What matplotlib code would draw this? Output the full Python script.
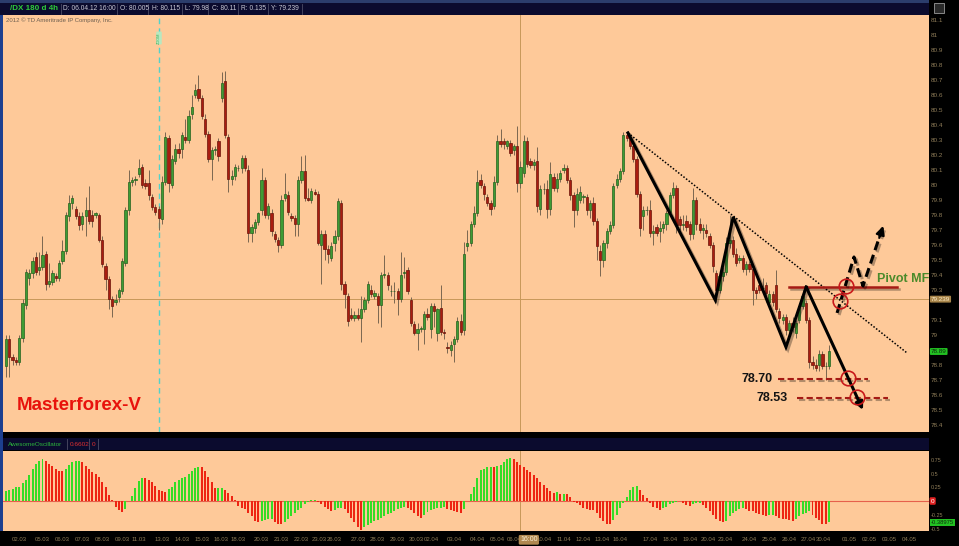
import matplotlib
matplotlib.use('Agg')
import matplotlib.pyplot as plt
import matplotlib.patheffects as pe
from matplotlib.patches import Rectangle
import numpy as np

plt.rcParams['font.family'] = ['Liberation Sans', 'DejaVu Sans']

# ---- price data, 4h bars of /DX ----
opens = [
    78.79, 78.97, 78.85, 78.83, 78.82, 78.98, 79.20, 79.38, 79.41, 79.52,
    79.43, 79.45, 79.54, 79.34, 79.35, 79.39, 79.38, 79.49, 79.56, 79.79,
    79.88, 79.84, 79.79, 79.74, 79.79, 79.83, 79.80, 79.80, 79.80, 79.63,
    79.46, 79.37, 79.24, 79.22, 79.25, 79.29, 79.48, 79.83, 80.02, 80.03,
    80.07, 80.12, 80.01, 80.01, 79.92, 79.85, 79.84, 79.77, 80.02, 80.31,
    80.00, 80.16, 80.24, 80.24, 80.32, 80.30, 80.47, 80.60, 80.64, 80.58,
    80.44, 80.34, 80.17, 80.23, 80.29, 80.58, 80.69, 80.32, 80.04, 80.06,
    80.11, 80.11, 80.18, 80.10, 79.68, 79.71, 79.75, 79.83, 80.03, 79.80,
    79.81, 79.67, 79.63, 79.60, 79.91, 79.93, 79.79, 79.78, 79.74, 80.03,
    80.09, 79.91, 79.90, 79.95, 79.94, 79.60, 79.67, 79.57, 79.51, 79.61,
    79.66, 79.88, 79.34, 79.26, 79.13, 79.11, 79.13, 79.11, 79.17, 79.23,
    79.30, 79.26, 79.26, 79.20, 79.40, 79.40, 79.29, 79.29, 79.29, 79.24,
    79.41, 79.43, 79.23, 79.07, 79.01, 79.04, 79.04, 79.14, 79.04, 79.19,
    79.01, 79.18, 79.02, 78.92, 78.90, 78.94, 78.97, 79.09, 79.03, 79.59,
    79.61, 79.74, 79.81, 80.03, 79.99, 79.92, 79.88, 79.86, 80.02, 80.29,
    80.29, 80.26, 80.28, 80.23, 80.26, 80.01, 80.08, 80.29, 80.16, 80.13,
    80.16, 79.84, 79.97, 79.97, 79.84, 80.05, 79.98, 80.04, 80.10, 80.11,
    80.03, 79.93, 79.83, 79.90, 79.92, 79.92, 79.83, 79.88, 79.76, 79.56,
    79.50, 79.61, 79.69, 79.73, 80.00, 80.04, 80.09, 80.33, 80.31, 80.26,
    80.17, 79.94, 79.79, 79.83, 79.83, 79.68, 79.72, 79.69, 79.71, 79.74,
    79.82, 79.93, 79.98, 79.77, 79.73, 79.76, 79.74, 79.67, 79.90, 79.74,
    79.70, 79.70, 79.66, 79.60, 79.41, 79.30, 79.39, 79.42, 79.61, 79.63,
    79.54, 79.50, 79.51, 79.44, 79.47, 79.44, 79.30, 79.33, 79.31, 79.33,
    79.22, 79.27, 79.33, 79.16, 79.10, 79.12, 79.03, 79.08, 79.01, 79.10,
    79.19, 79.21, 79.10, 78.82, 78.80, 78.80, 78.87, 78.79, 78.79]
highs = [
    79.00, 79.00, 78.87, 78.85, 79.00, 79.24, 79.44, 79.44, 79.52, 79.55,
    79.55, 79.66, 79.56, 79.48, 79.43, 79.41, 79.50, 79.63, 79.82, 79.93,
    79.93, 79.86, 79.82, 79.82, 79.92, 79.99, 79.83, 79.82, 79.81, 79.66,
    79.48, 79.39, 79.26, 79.27, 79.31, 79.51, 79.85, 80.10, 80.05, 80.06,
    80.17, 80.14, 80.04, 80.10, 79.94, 79.87, 79.86, 80.06, 80.35, 80.33,
    80.20, 80.27, 80.28, 80.35, 80.44, 80.50, 80.60, 80.67, 80.73, 80.60,
    80.47, 80.36, 80.25, 80.26, 80.31, 80.75, 80.76, 80.34, 80.10, 80.14,
    80.13, 80.20, 80.20, 80.13, 79.74, 79.77, 79.82, 80.11, 80.05, 79.88,
    79.84, 79.69, 79.65, 79.93, 80.08, 79.96, 79.81, 79.80, 80.06, 80.19,
    80.20, 79.98, 79.98, 79.97, 79.96, 79.70, 79.70, 79.60, 79.62, 79.70,
    79.91, 79.90, 79.36, 79.28, 79.18, 79.16, 79.18, 79.26, 79.25, 79.36,
    79.33, 79.30, 79.28, 79.42, 79.53, 79.42, 79.33, 79.35, 79.31, 79.55,
    79.52, 79.45, 79.25, 79.09, 79.08, 79.06, 79.16, 79.18, 79.21, 79.21,
    79.18, 79.33, 79.04, 78.95, 78.96, 78.99, 79.12, 79.14, 79.62, 79.70,
    79.76, 79.86, 80.10, 80.07, 80.01, 79.94, 79.90, 80.06, 80.33, 80.37,
    80.31, 80.30, 80.30, 80.27, 80.39, 80.16, 80.33, 80.32, 80.18, 80.17,
    80.25, 80.00, 80.01, 80.03, 80.15, 80.08, 80.08, 80.10, 80.14, 80.13,
    80.05, 79.95, 79.98, 79.99, 79.94, 79.94, 79.90, 79.92, 79.78, 79.60,
    79.63, 79.71, 79.76, 80.01, 80.07, 80.11, 80.35, 80.36, 80.33, 80.28,
    80.19, 79.96, 79.86, 79.86, 79.90, 79.73, 79.74, 79.76, 79.76, 79.83,
    79.95, 80.02, 80.00, 79.79, 79.80, 79.80, 79.76, 79.98, 79.92, 79.78,
    79.74, 79.74, 79.68, 79.62, 79.43, 79.42, 79.45, 79.65, 79.80, 79.66,
    79.58, 79.53, 79.53, 79.49, 79.49, 79.47, 79.32, 79.35, 79.38, 79.35,
    79.30, 79.29, 79.43, 79.18, 79.14, 79.14, 79.10, 79.12, 79.10, 79.21,
    79.30, 79.23, 79.12, 78.86, 78.84, 78.90, 78.89, 78.82, 78.93]
lows = [
    78.72, 78.72, 78.80, 78.80, 78.80, 78.95, 79.17, 79.33, 79.38, 79.40,
    79.40, 79.43, 79.30, 79.32, 79.33, 79.36, 79.36, 79.47, 79.54, 79.76,
    79.84, 79.77, 79.70, 79.70, 79.66, 79.74, 79.72, 79.78, 79.62, 79.45,
    79.30, 79.17, 79.12, 79.20, 79.22, 79.27, 79.46, 79.80, 79.99, 80.00,
    80.05, 79.98, 79.97, 79.90, 79.83, 79.80, 79.70, 79.74, 80.00, 79.95,
    79.98, 80.14, 80.18, 80.18, 80.28, 80.28, 80.44, 80.58, 80.56, 80.44,
    80.32, 80.15, 80.03, 80.20, 80.16, 80.55, 80.31, 79.95, 80.00, 80.03,
    80.09, 80.08, 80.09, 79.62, 79.62, 79.68, 79.73, 79.80, 79.78, 79.77,
    79.66, 79.62, 79.55, 79.58, 79.89, 79.80, 79.76, 79.66, 79.66, 80.01,
    79.89, 79.89, 79.88, 79.93, 79.60, 79.34, 79.50, 79.48, 79.49, 79.56,
    79.63, 79.30, 79.18, 79.06, 79.10, 79.09, 79.10, 78.95, 79.15, 79.21,
    79.25, 79.24, 79.08, 79.05, 79.38, 79.30, 79.26, 79.21, 79.13, 79.22,
    79.38, 79.27, 79.06, 79.00, 78.90, 79.02, 78.94, 79.10, 78.98, 79.05,
    78.96, 79.00, 78.97, 78.88, 78.86, 78.82, 78.95, 79.00, 79.00, 79.56,
    79.59, 79.72, 79.79, 79.98, 79.90, 79.86, 79.80, 79.84, 80.00, 80.25,
    80.24, 80.24, 80.19, 80.20, 79.95, 79.98, 80.05, 80.12, 80.11, 80.10,
    79.82, 79.80, 79.94, 79.78, 79.80, 79.96, 79.95, 80.02, 80.08, 80.01,
    79.90, 79.72, 79.80, 79.88, 79.88, 79.80, 79.78, 79.73, 79.50, 79.39,
    79.45, 79.58, 79.67, 79.71, 79.98, 80.02, 80.07, 80.29, 80.24, 80.15,
    79.92, 79.66, 79.70, 79.80, 79.65, 79.60, 79.66, 79.62, 79.68, 79.70,
    79.80, 79.91, 79.68, 79.70, 79.70, 79.69, 79.63, 79.64, 79.70, 79.68,
    79.64, 79.65, 79.58, 79.42, 79.22, 79.28, 79.36, 79.40, 79.58, 79.52,
    79.46, 79.48, 79.42, 79.40, 79.42, 79.20, 79.24, 79.28, 79.28, 79.22,
    79.19, 79.19, 79.15, 79.08, 79.07, 79.00, 78.98, 79.02, 78.98, 79.08,
    79.17, 79.08, 78.78, 78.77, 78.76, 78.76, 78.77, 78.70, 78.77]
closes = [
    78.97, 78.85, 78.83, 78.82, 78.98, 79.21, 79.42, 79.41, 79.49, 79.42,
    79.45, 79.53, 79.34, 79.36, 79.41, 79.38, 79.48, 79.56, 79.80, 79.88,
    79.91, 79.79, 79.73, 79.79, 79.83, 79.76, 79.76, 79.81, 79.63, 79.47,
    79.37, 79.24, 79.19, 79.23, 79.30, 79.49, 79.83, 80.02, 80.03, 80.04,
    80.11, 80.00, 79.99, 79.93, 79.85, 79.82, 79.78, 80.02, 80.32, 80.01,
    80.17, 80.24, 80.21, 80.33, 80.30, 80.46, 80.52, 80.63, 80.58, 80.46,
    80.34, 80.17, 80.23, 80.24, 80.19, 80.68, 80.33, 80.04, 80.06, 80.12,
    80.11, 80.18, 80.11, 79.68, 79.72, 79.75, 79.81, 80.03, 79.80, 79.86,
    79.69, 79.64, 79.60, 79.90, 79.94, 79.82, 79.78, 79.74, 80.03, 80.09,
    79.91, 79.90, 79.96, 79.94, 79.61, 79.67, 79.57, 79.54, 79.59, 79.66,
    79.89, 79.34, 79.27, 79.09, 79.11, 79.13, 79.11, 79.17, 79.23, 79.34,
    79.27, 79.28, 79.20, 79.40, 79.40, 79.33, 79.29, 79.29, 79.24, 79.40,
    79.42, 79.29, 79.08, 79.01, 79.04, 79.04, 79.14, 79.12, 79.19, 79.16,
    79.17, 79.02, 79.01, 78.91, 78.93, 78.97, 79.09, 79.02, 79.54, 79.61,
    79.74, 79.81, 80.02, 80.00, 79.94, 79.88, 79.84, 80.02, 80.29, 80.27,
    80.27, 80.29, 80.21, 80.26, 80.01, 80.12, 80.29, 80.14, 80.13, 80.15,
    79.86, 79.97, 79.97, 79.84, 80.07, 79.98, 80.04, 80.08, 80.11, 80.03,
    79.93, 79.83, 79.94, 79.95, 79.92, 79.83, 79.88, 79.76, 79.59, 79.50,
    79.61, 79.69, 79.73, 79.99, 80.04, 80.09, 80.33, 80.31, 80.26, 80.17,
    79.94, 79.71, 79.83, 79.83, 79.68, 79.69, 79.68, 79.71, 79.74, 79.81,
    79.93, 79.98, 79.73, 79.73, 79.74, 79.72, 79.67, 79.90, 79.74, 79.70,
    79.71, 79.68, 79.60, 79.46, 79.30, 79.39, 79.42, 79.61, 79.63, 79.54,
    79.48, 79.51, 79.44, 79.47, 79.44, 79.30, 79.28, 79.30, 79.31, 79.28,
    79.27, 79.22, 79.17, 79.11, 79.12, 79.03, 79.08, 79.05, 79.08, 79.19,
    79.26, 79.10, 78.82, 78.80, 78.78, 78.87, 78.79, 78.79, 78.89]

# Awesome Oscillator values, one per bar
ao_values = [
    0.18, 0.20, 0.22, 0.25, 0.26, 0.32, 0.39, 0.47, 0.58, 0.68,
    0.73, 0.76, 0.73, 0.68, 0.64, 0.59, 0.55, 0.54, 0.58, 0.66,
    0.70, 0.72, 0.73, 0.70, 0.64, 0.58, 0.53, 0.50, 0.44, 0.35,
    0.25, 0.11, 0.01, -0.10, -0.16, -0.20, -0.15, 0.00, 0.10, 0.23,
    0.37, 0.42, 0.41, 0.38, 0.34, 0.27, 0.20, 0.18, 0.17, 0.21,
    0.26, 0.34, 0.38, 0.41, 0.44, 0.50, 0.55, 0.60, 0.62, 0.61,
    0.54, 0.44, 0.35, 0.23, 0.235, 0.24, 0.20, 0.15, 0.10, 0.01,
    -0.09, -0.12, -0.15, -0.21, -0.28, -0.36, -0.39, -0.36, -0.34, -0.335,
    -0.33, -0.38, -0.41, -0.42, -0.38, -0.33, -0.27, -0.21, -0.16, -0.12,
    -0.05, -0.01, 0.01, 0.02, -0.02, -0.06, -0.11, -0.15, -0.18, -0.16,
    -0.13, -0.12, -0.15, -0.22, -0.30, -0.38, -0.48, -0.52, -0.47, -0.44,
    -0.40, -0.37, -0.34, -0.30, -0.27, -0.24, -0.21, -0.18, -0.15, -0.13,
    -0.10, -0.12, -0.17, -0.22, -0.27, -0.30, -0.26, -0.20, -0.16, -0.14,
    -0.13, -0.12, -0.115, -0.14, -0.16, -0.18, -0.20, -0.21, -0.14, 0.00,
    0.13, 0.26, 0.41, 0.56, 0.59, 0.62, 0.625, 0.61, 0.64, 0.65,
    0.70, 0.76, 0.79, 0.76, 0.70, 0.65, 0.61, 0.56, 0.52, 0.47,
    0.41, 0.35, 0.30, 0.23, 0.19, 0.15, 0.155, 0.13, 0.135, 0.12,
    0.07, -0.01, -0.04, -0.07, -0.13, -0.15, -0.155, -0.16, -0.22, -0.30,
    -0.36, -0.41, -0.42, -0.35, -0.25, -0.13, -0.04, 0.08, 0.20, 0.26,
    0.27, 0.20, 0.11, 0.05, -0.03, -0.10, -0.13, -0.16, -0.13, -0.10,
    -0.05, -0.03, -0.01, 0.00, -0.03, -0.07, -0.09, -0.05, -0.045, -0.04,
    -0.07, -0.13, -0.19, -0.25, -0.32, -0.36, -0.39, -0.36, -0.28, -0.22,
    -0.18, -0.15, -0.13, -0.15, -0.18, -0.19, -0.21, -0.24, -0.25, -0.27,
    -0.26, -0.25, -0.27, -0.30, -0.32, -0.33, -0.35, -0.355, -0.32, -0.27,
    -0.24, -0.21, -0.19, -0.25, -0.30, -0.35, -0.41, -0.415, -0.39]

# date labels on the time axis and the bar they sit under
date_labels = ['02.03', '05.03', '06.03', '07.03', '08.03', '09.03', '11.03', '13.03',
               '14.03', '15.03', '16.03', '18.03', '20.03', '21.03', '22.03', '23.03',
               '26.03', '27.03', '28.03', '29.03', '30.03', '02.04', '03.04', '04.04',
               '05.04', '06.04', '10.04', '11.04', '12.04', '13.04', '16.04', '17.04',
               '18.04', '19.04', '20.04', '23.04', '24.04', '25.04', '26.04', '27.04',
               '30.04', '01.05', '02.05', '03.05', '04.05']
date_bars = [4, 11, 17, 23, 29, 35, 40, 47, 53, 59, 64.7, 69.8, 77, 83, 89, 94.5,
             98.8, 106, 112, 118, 123.7, 128.2, 135, 142, 148, 153, 162, 168, 174, 179.7, 185, 194,
             200, 206, 211.7, 216.8, 224, 230, 236, 241.7, 246.4, 254, 260, 266, 272]

header_items = ['D: 06.04.12 16:00', 'O: 80.005', 'H: 80.115', 'L: 79.98',
                'C: 80.11', 'R: 0.135', 'Y: 79.239']
last_price = 78.89
cursor_price = 79.239
cursor_bar = 154.9
ao_last = -0.38975

# hand drawn analysis (bar index, price)
trend_x = [187.4, 271.5]
trend_y = [80.347, 78.88]
zigzag_x = [187.4, 213.7, 219.1, 235.0, 241.1]
zigzag_y = [80.347, 79.233, 79.787, 78.92, 79.32]
zigzag_end = (258.2, 78.50)
alt_x = [250.4, 255.5, 258.2]
alt_y = [79.147, 79.52, 79.327]
alt_end = (264.3, 79.727)
pivot_x = [236.0, 268.5]
pivot_level = 79.32
circle_x = [253.1, 251.3, 253.7, 256.4]
circle_y = [79.327, 79.227, 78.713, 78.587]
target1_x = [232.6, 259.8]
target1_y = 78.707
target2_x = [238.4, 265.8]
target2_y = 78.58

W, H = 959, 546
PEACH = '#fec999'
NAVY = '#0b0b2e'
DIM = '#8e7c58'

fig = plt.figure(figsize=(W / 100, H / 100), dpi=100, facecolor='black')


def box(x0, y0, x1, y1):
    return [x0 / W, 1 - y1 / H, (x1 - x0) / W, (y1 - y0) / H]


def rect(x0, y0, x1, y1, fc, ec='none', lw=0):
    fig.add_artist(Rectangle((x0 / W, 1 - y1 / H), (x1 - x0) / W, (y1 - y0) / H,
                             transform=fig.transFigure, facecolor=fc, edgecolor=ec,
                             lw=lw, zorder=-1))


# window chrome
rect(0, 0, 929, 3, '#2b3d6c')
rect(0, 3, 929, 15, NAVY)
rect(0, 15, 3, 531, '#1d3f8f')
rect(3, 438, 929, 450, NAVY)
rect(934, 3, 944, 13, '#2a2a2a', ec='#9a9a9a', lw=0.6)

fig.text(10 / W, 1 - 8.5 / H, '/DX 180 d 4h', color='#2fcc3a', fontsize=5.8,
         weight='bold', va='center')
item_x = [63, 120, 152, 185, 212, 241, 271]
sep_x = [61, 117, 148, 182, 208, 238, 268, 302]
for s, x in zip(header_items, item_x):
    fig.text(x / W, 1 - 8.5 / H, s, color='#c8c8d4', fontsize=4.8, va='center')
for x in sep_x:
    fig.add_artist(plt.Line2D([x / W, x / W], [1 - 4 / H, 1 - 14 / H],
                              transform=fig.transFigure, color='#4c4c66', lw=0.6))

fig.text(8 / W, 1 - 444 / H, 'AwesomeOscillator', color='#2cb43c', fontsize=4.6, va='center')
fig.text(70 / W, 1 - 444 / H, '0.6602', color='#e03030', fontsize=4.6, va='center')
fig.text(92 / W, 1 - 444 / H, '0', color='#e03030', fontsize=4.6, va='center')
for x in [67, 89, 98]:
    fig.add_artist(plt.Line2D([x / W, x / W], [1 - 439 / H, 1 - 449 / H],
                              transform=fig.transFigure, color='#4c4c66', lw=0.6))

# ---- price panel ----
idx = np.arange(len(closes))
o = np.array(opens)
c = np.array(closes)
hi = np.array(highs)
lo = np.array(lows)

ax = fig.add_axes(box(3, 15, 929, 432))
ax.set_facecolor(PEACH)
ax.set_xlim(-0.9, 278.1)
ax.set_ylim(78.3533, 81.1333)
for s in ax.spines.values():
    s.set_visible(False)
ax.set_xticks([])
ax.yaxis.tick_right()
# 79.2 and 78.9 sit under the cursor / last-price boxes
pticks = [t for t in np.round(np.arange(78.4, 81.15, 0.1), 1) if t not in (79.2, 78.9)]
ax.set_yticks(pticks)
ax.set_yticklabels(['{:g}'.format(t) for t in pticks])
ax.tick_params(axis='y', length=0, pad=1.5, labelsize=4.6, labelcolor=DIM)

ax.axhline(cursor_price, color='#c8985a', lw=0.7, zorder=1)
ax.axvline(cursor_bar, color='#c8985a', lw=0.7, zorder=1)
ax.axvline(46.1, color='#4fd3cc', lw=1.0, ls=(0, (4, 3)), zorder=1)
ax.text(46.1, 80.98, 'ZOOM', rotation=90, fontsize=2.8, color='#3fae5a',
        ha='center', va='center',
        bbox=dict(boxstyle='round,pad=0.2', fc='#b8e8c0', ec='none'))

up = c >= o
body_lo = np.minimum(o, c)
body_h = np.maximum(np.abs(c - o), 0.006)
ax.vlines(idx, lo, hi, color='#7a6650', lw=0.7, zorder=2)
ax.bar(idx[up], body_h[up], bottom=body_lo[up], width=0.68, color='#3e9c34',
       edgecolor='#24601e', lw=0.5, zorder=3)
ax.bar(idx[~up], body_h[~up], bottom=body_lo[~up], width=0.68, color='#a91d10',
       edgecolor='#6a1208', lw=0.5, zorder=3)

ax.text(1.002, cursor_price, '{:.3f}'.format(cursor_price), transform=ax.get_yaxis_transform(),
        fontsize=4.6, color='#fdebc6', ha='left', va='center',
        bbox=dict(boxstyle='round,pad=0.15', fc='#a8854a', ec='none'))
ax.text(1.002, last_price, '{:.2f}'.format(last_price), transform=ax.get_yaxis_transform(),
        fontsize=4.6, color='#0d2a0d', ha='left', va='center',
        bbox=dict(boxstyle='round,pad=0.15', fc='#22c022', ec='none'))

# analysis drawing
shadow = [pe.SimpleLineShadow(offset=(1.5, -1.5), alpha=0.3, shadow_color='black'), pe.Normal()]
ax.plot(trend_x, trend_y, color='black', lw=1.1, ls=(0, (1, 1.2)), zorder=5)
ax.plot(zigzag_x, zigzag_y, color='black', lw=2.2, solid_joinstyle='miter',
        zorder=6, path_effects=shadow)
ax.annotate('', xy=zigzag_end, xytext=(zigzag_x[-1], zigzag_y[-1]), zorder=6,
            arrowprops=dict(arrowstyle='-|>', color='black', lw=2.2, mutation_scale=11,
                            shrinkA=0, shrinkB=0))
ax.plot(alt_x + [alt_end[0]], alt_y + [alt_end[1]], color='black', lw=2.2,
        ls=(0, (3, 1.6)), zorder=6, path_effects=shadow)
ax.annotate('', xy=alt_end, xytext=(alt_end[0] - 1.2, alt_end[1] - 0.08), zorder=6,
            arrowprops=dict(arrowstyle='-|>', color='black', lw=1.5, mutation_scale=13,
                            shrinkA=0, shrinkB=0))
ax.plot(pivot_x, [pivot_level, pivot_level], color='#a51a14', lw=1.8, zorder=5,
        path_effects=shadow)
ax.plot(target1_x, [target1_y, target1_y], color='#a51a14', lw=1.5,
        ls=(0, (3, 1.6)), zorder=5, path_effects=shadow)
ax.plot(target2_x, [target2_y, target2_y], color='#a51a14', lw=1.5,
        ls=(0, (3, 1.6)), zorder=5, path_effects=shadow)
ax.plot(circle_x, circle_y, 'o', mfc='none', mec='#c8181a', ms=10.5, mew=1.2, zorder=7)

ax.text(262.5, 79.373, 'Pivot MF', color='#4a8a2a', fontsize=9, weight='bold',
        ha='left', va='center', zorder=8)
ax.text(231.1, target1_y, '78.70', color='#141414', fontsize=9, weight='bold',
        ha='right', va='center', zorder=8)
ax.text(235.6, target2_y, '78.53', color='#141414', fontsize=9, weight='bold',
        ha='right', va='center', zorder=8)
ax.text(3.3, 78.527, 'Masterforex-V', color='#e8120c', fontsize=13.5, weight='bold',
        ha='left', va='center', zorder=8)
ax.text(0.003, 0.988, '2012 \u00a9 TD Ameritrade IP Company, Inc.', transform=ax.transAxes,
        color='#6e5f50', fontsize=4.3, ha='left', va='center')

# ---- Awesome Oscillator panel ----
ao = np.array(ao_values)
rising = np.r_[True, ao[1:] > ao[:-1]]
ax2 = fig.add_axes(box(3, 451, 929, 531))
ax2.set_facecolor(PEACH)
ax2.set_xlim(-0.9, 278.1)
ax2.set_ylim(-0.545, 0.909)
for s in ax2.spines.values():
    s.set_visible(False)
ax2.bar(idx, ao, width=0.6, color=np.where(rising, '#34dc26', '#ee2412'), zorder=3)
ax2.axhline(0, color='#e6604c', lw=0.8, zorder=2)
ax2.axvline(cursor_bar, color='#c8985a', lw=0.7, zorder=1)
ax2.yaxis.tick_right()
ax2.set_yticks([0.75, 0.5, 0.25, -0.25, -0.5])
ax2.set_yticklabels(['0.75', '0.5', '0.25', '-0.25', '-0.5'])
ax2.set_xticks(date_bars)
ax2.set_xticklabels(date_labels)
ax2.tick_params(axis='y', length=0, pad=1.5, labelsize=4.0, labelcolor=DIM)
ax2.tick_params(axis='x', length=0, pad=4.3, labelsize=4.3, labelcolor=DIM)
ax2.text(1.002, 0, '0', transform=ax2.get_yaxis_transform(), fontsize=4.6, color='white',
         ha='left', va='center', bbox=dict(boxstyle='round,pad=0.2', fc='#e02020', ec='none'))
ax2.text(1.002, ao_last, '{:g}'.format(ao_last), transform=ax2.get_yaxis_transform(),
         fontsize=4.2, color='#0d2a0d', ha='left', va='center', zorder=9,
         bbox=dict(boxstyle='square,pad=0.1', fc='#22c022', ec='none'))
ax2.text(cursor_bar, -0.11, '16:00', transform=ax2.get_xaxis_transform(), fontsize=5,
         color='#fff2d8', ha='left', va='center', zorder=9,
         bbox=dict(boxstyle='round,pad=0.2', fc='#b08850', ec='none'))

fig.savefig('out.png', dpi=100, facecolor='black')
